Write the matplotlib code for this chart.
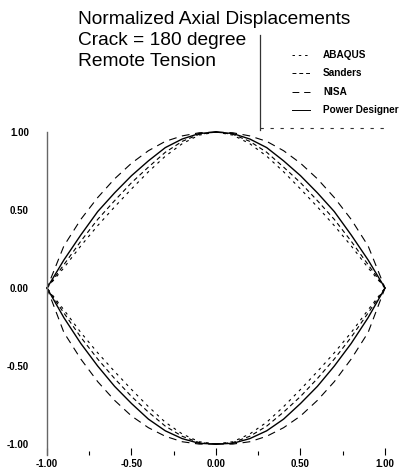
import matplotlib
matplotlib.use("Agg")
import matplotlib.pyplot as plt
from matplotlib.lines import Line2D

# |x| positions along the half profile (curves are symmetric about x = 0)
x_half = [0.0, 0.1, 0.2, 0.3, 0.4, 0.5, 0.6, 0.7, 0.8, 0.9, 1.0]

# upper / lower branches
abaqus_up = [1.0, 0.98, 0.925, 0.845, 0.745, 0.635, 0.52, 0.40, 0.27, 0.13, 0.0]
abaqus_lo = [-1.0, -0.985, -0.935, -0.86, -0.76, -0.65, -0.535, -0.415, -0.285, -0.14, 0.0]
sanders_up = [1.0, 0.985, 0.94, 0.87, 0.775, 0.675, 0.56, 0.44, 0.30, 0.15, 0.0]
sanders_lo = [-1.0, -0.99, -0.95, -0.885, -0.795, -0.695, -0.58, -0.455, -0.315, -0.16, 0.0]
nisa_up = [1.0, 0.995, 0.975, 0.94, 0.88, 0.80, 0.70, 0.58, 0.44, 0.27, 0.0]
nisa_lo = [-1.0, -1.0, -0.985, -0.95, -0.895, -0.82, -0.72, -0.60, -0.455, -0.285, 0.0]
power_up = [1.0, 0.99, 0.955, 0.90, 0.815, 0.72, 0.61, 0.49, 0.34, 0.18, 0.0]
power_lo = [-1.0, -0.995, -0.965, -0.915, -0.84, -0.74, -0.63, -0.50, -0.355, -0.19, 0.0]

series = [
    ("ABAQUS", abaqus_up, abaqus_lo, (0, (2.5, 4)), 0.8),
    ("Sanders", sanders_up, sanders_lo, (0, (4, 3)), 0.8),
    ("NISA", nisa_up, nisa_lo, (0, (7, 5)), 0.8),
    ("Power Designer", power_up, power_lo, "-", 1.0),
]

x_ticks = [-1.0, -0.5, 0.0, 0.5, 1.0]
x_minor = [-0.75, -0.25, 0.25, 0.75]
y_ticks = [1.0, 0.5, 0.0, -0.5, -1.0]
tick_labels = ["-1.00", "-0.50", "0.00", "0.50", "1.00"]
ytick_labels = ["1.00", "0.50", "0.00", "-0.50", "-1.00"]

W, H = 414, 475
fig = plt.figure(figsize=(W / 100, H / 100), dpi=100)
ax = fig.add_axes([47 / W, (H - 455) / H, (385 - 47) / W, (455 - 132) / H])

for name, up, lo, ls, lw in series:
    left = [-v for v in x_half]
    for yy in (up, lo):
        ax.plot(x_half, yy, color="black", ls=ls, lw=lw, clip_on=False)
        ax.plot(left, yy, color="black", ls=ls, lw=lw, clip_on=False)

ax.set_xlim(-1.0, 1.0)
ax.set_ylim(-1.07, 1.0)
for s in ("top", "right", "bottom"):
    ax.spines[s].set_visible(False)
ax.spines["left"].set_color("#666666")
ax.spines["left"].set_linewidth(1.0)

ax.set_xticks(x_ticks)
ax.set_xticklabels(tick_labels)
ax.set_xticks(x_minor, minor=True)
ax.set_yticks(y_ticks)
ax.set_yticklabels(ytick_labels)
ax.tick_params(axis="x", which="major", direction="in", length=5, width=0.8,
               pad=3, labelsize=7)
ax.tick_params(axis="x", which="minor", direction="in", length=3, width=0.8)
ax.tick_params(axis="y", length=0, pad=13, labelsize=7)
for lab in ax.get_xticklabels() + ax.get_yticklabels():
    lab.set_fontweight("bold")
    lab.set_family("Liberation Sans")

# title block
title_lines = ["Normalized Axial Displacements", "Crack = 180 degree", "Remote Tension"]
for i, t in enumerate(title_lines):
    fig.text(78 / W, 1 - (24 + 21 * i) / H, t, family="Liberation Sans",
             fontsize=13.8, va="baseline", ha="left")

# legend frame (left and bottom edges only survive in the scan)
fig.add_artist(Line2D([260 / W, 260 / W], [1 - 35 / H, 1 - 130 / H],
                      color="#333333", lw=0.9))
fig.add_artist(Line2D([260 / W, 385 / W], [1 - 128 / H, 1 - 128 / H],
                      color="#333333", lw=0.8, ls=(0, (3, 6))))

for i, (name, up, lo, ls, lw) in enumerate(series):
    yy = 1 - (55 + 18.3 * i) / H
    fig.add_artist(Line2D([292 / W, 310 / W], [yy, yy], color="black",
                          lw=0.7, ls=ls))
    fig.text(323 / W, yy, name, family="Liberation Sans", fontweight="bold",
             fontsize=7.2, va="center", ha="left")

fig.savefig("out.png", dpi=100)
